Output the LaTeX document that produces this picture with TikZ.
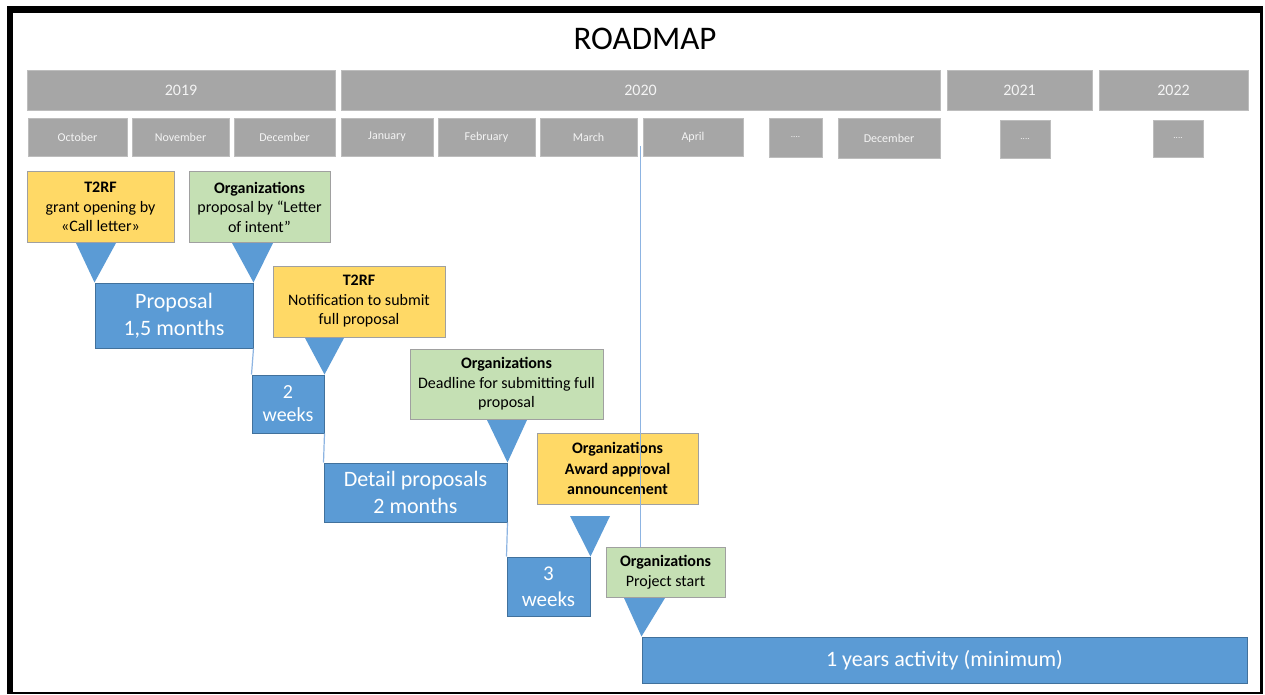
\documentclass[tikz,border=0pt]{standalone}
\usepackage{fontspec}
\setmainfont{Carlito}
\definecolor{cBar}{HTML}{A6A6A6}
\definecolor{cBarB}{HTML}{BDBDBD}
\definecolor{cTxtW}{HTML}{F4F4F4}
\definecolor{cYel}{HTML}{FFD966}
\definecolor{cGrn}{HTML}{C5E0B4}
\definecolor{cCBord}{HTML}{A0A0A0}
\definecolor{cBlu}{HTML}{5B9BD5}
\definecolor{cBluD}{HTML}{41719C}
\definecolor{cLnk}{HTML}{8DB4E2}
\tikzset{
  yearbar/.style={fill=cBar, draw=cBarB, line width=0.8pt, inner sep=0pt, text=cTxtW,
    minimum height=40pt, font=\fontsize{16}{19}\selectfont},
  monthbox/.style={fill=cBar, draw=cBarB, line width=0.8pt, inner sep=0pt, text=cTxtW,
    font=\fontsize{12}{14}\selectfont},
  callout/.style={draw=cCBord, line width=1pt, inner sep=0pt, align=center, text=black,
    font=\fontsize{16}{19.5}\selectfont},
  yellowbox/.style={callout, fill=cYel},
  greenbox/.style={callout, fill=cGrn},
  phase/.style={fill=cBlu, draw=cBluD, line width=1pt, inner sep=0pt, align=center, text=white,
    font=\fontsize{22}{27}\selectfont},
  pointer/.style={fill=cBlu, draw=none},
  link/.style={draw=cLnk, line width=1.2pt},
}
\begin{document}
\begin{tikzpicture}[x=1pt,y=-1pt]
\useasboundingbox (0,0) rectangle (1265,695);
% frame
\fill[black] (7,6) rectangle (1263,694);
\fill[white] (13,13) rectangle (1260,692);

\node[font=\fontsize{33}{38}\selectfont] (title) at (645,39) {ROADMAP};

% years
\node[yearbar, minimum width=308pt] (y19) at (181,90) {2019};
\node[yearbar, minimum width=599pt] (y20) at (640.5,90) {2020};
\node[yearbar, minimum width=145pt] (y21) at (1019.5,90) {2021};
\node[yearbar, minimum width=149pt] (y22) at (1173.5,90) {2022};

% months
\node[monthbox, minimum width=99pt, minimum height=38pt] (oct) at (77.5,137) {October};
\node[monthbox, minimum width=97pt, minimum height=38pt] (nov) at (180.5,137) {November};
\node[monthbox, minimum width=101pt, minimum height=38pt] (dec) at (284.5,137) {December};
\node[monthbox, minimum width=92pt, minimum height=38pt] (jan) at (387,137) {January};
\node[monthbox, minimum width=97pt, minimum height=38pt] (feb) at (486.5,137) {February};
\node[monthbox, minimum width=97pt, minimum height=38pt] (mar) at (588.5,137) {March};
\node[monthbox, minimum width=100pt, minimum height=38pt] (apr) at (693,137) {April};
\node[monthbox, minimum width=53pt, minimum height=39pt, font=\fontsize{9}{10}\selectfont] (dotsa) at (795.5,137.5) {....};
\node[monthbox, minimum width=102pt, minimum height=40pt] (decb) at (889,138) {December};
\node[monthbox, minimum width=50pt, minimum height=38pt, font=\fontsize{9}{10}\selectfont] (dotsb) at (1025,139) {....};
\node[monthbox, minimum width=50pt, minimum height=37pt, font=\fontsize{9}{10}\selectfont] (dotsc) at (1178,138.5) {....};

% phases (blue bars)
\node[phase, minimum width=158pt, minimum height=65pt] (prop) at (174,315.5) {Proposal\\1,5 months};
\node[phase, minimum width=72pt, minimum height=58pt, font=\fontsize{20}{23}\selectfont] (w2) at (288,404) {2\\weeks};
\node[phase, minimum width=183pt, minimum height=59pt] (det) at (415.5,492.5) {Detail proposals\\2 months};
\node[phase, minimum width=83pt, minimum height=59pt, font=\fontsize{21}{26}\selectfont] (w3) at (548.5,586.5) {3\\weeks};
\node[phase, minimum width=605pt, minimum height=46pt] (act) at (944.5,660) {1 years activity (minimum)};

% links between phases
\draw[link] (prop.south east) -- (w2.north west);
\draw[link] (w2.south east) -- (det.north west);
\draw[link] (det.south east) -- (w3.north west);

% callouts
\node[yellowbox, minimum width=147pt, minimum height=70pt] (c1) at (100.5,207)
  {\textbf{T2RF}\\grant opening by\\«Call letter»};
\node[greenbox, minimum width=141pt, minimum height=70pt] (c2) at (259.5,207)
  {\textbf{Organizations}\\proposal by “Letter\\of intent”};
\node[yellowbox, minimum width=172pt, minimum height=71pt] (c3) at (359,301.5)
  {\textbf{T2RF}\\Notification to submit\\full proposal};
\node[greenbox, minimum width=193pt, minimum height=70pt] (c4) at (506.5,384)
  {\textbf{Organizations}\\Deadline for submitting full\\proposal};
\node[yellowbox, minimum width=161pt, minimum height=71pt, font=\fontsize{16}{20.5}\selectfont\bfseries] (c5) at (617.5,468.5)
  {Organizations\\Award approval\\announcement};

% vertical marker line
\coordinate (vtop) at (640.5,146);
\node[greenbox, minimum width=119pt, minimum height=50pt] (c6) at (665.5,572)
  {\textbf{Organizations}\\Project start};
\draw[link] (vtop) -- (vtop |- c6.north);

% pointers
\fill[pointer] (76,243) -- (116,243) -- (prop.north west) -- cycle;
\fill[pointer] (232,243) -- (273,243) -- (prop.north east) -- cycle;
\fill[pointer] (305,338) -- (344,338) -- (w2.north east) -- cycle;
\fill[pointer] (487,420) -- (527,420) -- (det.north east) -- cycle;
\fill[pointer] (570,516) -- (610,516) -- (w3.north east) -- cycle;
\fill[pointer] (624,598) -- (665,598) -- (act.north west) -- cycle;
\end{tikzpicture}
\end{document}
